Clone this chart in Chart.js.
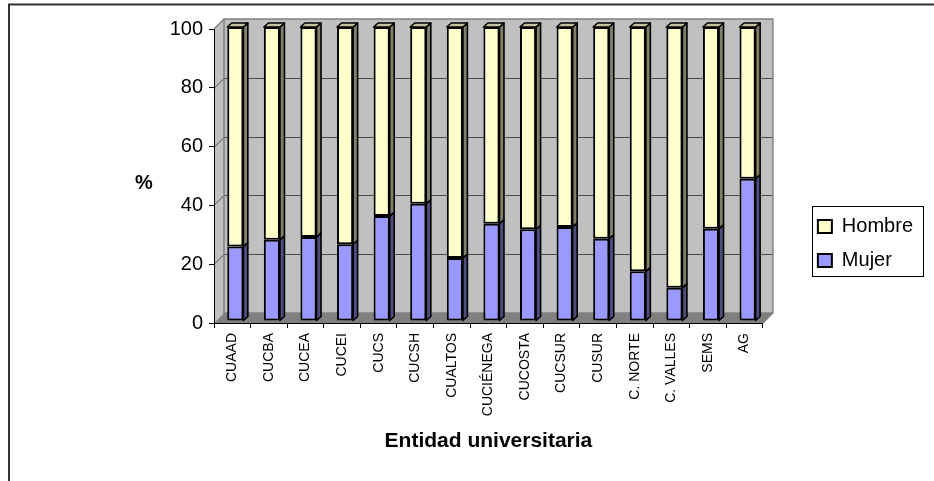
<!DOCTYPE html>
<html>
<head>
<meta charset="utf-8">
<script src="https://cdn.jsdelivr.net/npm/chart.js@4.4.1/dist/chart.umd.min.js"></script>
<style>html,body{margin:0;padding:0;background:#fff}canvas{display:block}</style>
</head>
<body>
<canvas id="c" width="934" height="481"></canvas>
<script>
// ---- data ----
const categories = ['CUAAD','CUCBA','CUCEA','CUCEI','CUCS','CUCSH','CUALTOS','CUCIÉNEGA','CUCOSTA','CUCSUR','CUSUR','C. NORTE','C. VALLES','SEMS','AG'];
const mujer  = [25.3, 27.6, 28.6, 26.1, 35.7, 39.9, 21.4, 33.1, 31.2, 32.0, 28.0, 16.9, 11.3, 31.4, 48.4];
const hombre = [74.7, 72.4, 71.4, 73.9, 64.3, 60.1, 78.6, 66.9, 68.8, 68.0, 72.0, 83.1, 88.7, 68.6, 51.6];
const yTicks = [0, 20, 40, 60, 80, 100];
const seriesNames = ['Mujer', 'Hombre'];
const xTitle = 'Entidad universitaria';
const yTitle = '%';

// ---- style ----
const FONT = "'Liberation Sans', Arial, sans-serif";
const DEPTH = {dx: 10, dy: 10};
const BAR_DEPTH = {dx: 4.5, dy: 4};
const BAR_SHIFT = {dx: 3, dy: -2};
const FILL = ['#9999ff', '#ffffcc'];
const SIDE = ['#4d4d80', '#80806a'];
const TOPC = ['#7a7acc', '#c2c29c'];

const plugin3d = {
  id: 'plugin3d',
  beforeDraw(chart) {
    const {ctx, chartArea: a} = chart;
    const y = chart.scales.y;
    const L = a.left, R = a.right, T = a.top, B = a.bottom, dx = DEPTH.dx, dy = DEPTH.dy;
    ctx.save();
    ctx.fillStyle = '#fff';
    ctx.fillRect(0, 0, chart.width, chart.height);
    // outer frame (top + left)
    ctx.strokeStyle = '#333'; ctx.lineWidth = 2;
    ctx.beginPath(); ctx.moveTo(9, chart.height); ctx.lineTo(9, 4.5); ctx.lineTo(chart.width, 4.5); ctx.stroke();
    // back wall
    ctx.fillStyle = '#c0c0c0';
    ctx.fillRect(L + dx, T - dy, R - L, B - T);
    // left wall
    ctx.beginPath(); ctx.moveTo(L, T); ctx.lineTo(L + dx, T - dy); ctx.lineTo(L + dx, B - dy); ctx.lineTo(L, B); ctx.closePath(); ctx.fill();
    // floor
    ctx.fillStyle = '#808080';
    ctx.beginPath(); ctx.moveTo(L, B); ctx.lineTo(L + dx, B - dy); ctx.lineTo(R + dx, B - dy); ctx.lineTo(R, B); ctx.closePath(); ctx.fill();
    // gridlines on walls
    ctx.strokeStyle = '#4a4a4a'; ctx.lineWidth = 1;
    yTicks.forEach(v => {
      if (v === yTicks[0] || v === yTicks[yTicks.length - 1]) return;
      const py = Math.round(y.getPixelForValue(v)) + 0.5;
      ctx.beginPath(); ctx.moveTo(L, py); ctx.lineTo(L + dx, py - dy); ctx.lineTo(R + dx, py - dy); ctx.stroke();
    });
    // outlines
    ctx.strokeStyle = '#808080'; ctx.lineWidth = 1.5;
    ctx.strokeRect(L + dx, T - dy, R - L, B - T);
    ctx.beginPath(); ctx.moveTo(L, T); ctx.lineTo(L + dx, T - dy); ctx.stroke();
    ctx.beginPath(); ctx.moveTo(R, B); ctx.lineTo(R + dx, B - dy); ctx.stroke();
    ctx.restore();
  },
  beforeDatasetsDraw(chart) {
    chart.ctx.save();
    chart.ctx.translate(BAR_SHIFT.dx, BAR_SHIFT.dy);
  },
  afterDatasetsDraw(chart) {
    const ctx = chart.ctx;
    const n = chart.data.datasets.length;
    chart.getSortedVisibleDatasetMetas().forEach(meta => {
      const di = meta.index;
      meta.data.forEach(bar => {
        const p = bar.getProps(['x', 'y', 'base', 'width'], true);
        const l = p.x - p.width / 2, r = p.x + p.width / 2;
        const top = Math.min(p.y, p.base), bot = Math.max(p.y, p.base);
        const bdx = BAR_DEPTH.dx, bdy = BAR_DEPTH.dy;
        ctx.lineWidth = 1.6; ctx.strokeStyle = '#000'; ctx.lineJoin = 'round';
        ctx.fillStyle = SIDE[di];
        ctx.beginPath(); ctx.moveTo(r, top); ctx.lineTo(r + bdx, top - bdy); ctx.lineTo(r + bdx, bot - bdy); ctx.lineTo(r, bot); ctx.closePath();
        ctx.fill(); ctx.stroke();
        if (di === n - 1) {
          ctx.fillStyle = TOPC[di];
          ctx.beginPath(); ctx.moveTo(l, top); ctx.lineTo(l + bdx, top - bdy); ctx.lineTo(r + bdx, top - bdy); ctx.lineTo(r, top); ctx.closePath();
          ctx.fill(); ctx.stroke();
        }
      });
    });
    ctx.restore();
  },
  afterDraw(chart) {
    const {ctx, chartArea: a} = chart;
    ctx.save();
    // y axis title (horizontal)
    ctx.fillStyle = '#000';
    ctx.font = 'bold 20px ' + FONT;
    ctx.textAlign = 'center'; ctx.textBaseline = 'middle';
    ctx.fillText(yTitle, a.left - 70, (a.top + a.bottom) / 2 + 7);
    // legend frame
    const hb = chart.legend && chart.legend.legendHitBoxes;
    if (hb && hb.length) {
      const left = Math.min(...hb.map(h => h.left)) - 6;
      const right = Math.max(...hb.map(h => h.left + h.width)) + 10;
      const top = hb[0].top - 11;
      const last = hb[hb.length - 1];
      const bottom = last.top + last.height + 5;
      ctx.strokeStyle = '#000'; ctx.lineWidth = 1;
      ctx.strokeRect(Math.round(left) + 0.5, Math.round(top) + 0.5, Math.round(right - left), Math.round(bottom - top));
    }
    ctx.restore();
  }
};

const seriesData = [mujer, hombre];
const datasets = seriesNames.map((name, i) => ({
  label: name,
  data: seriesData[i],
  backgroundColor: FILL[i],
  borderColor: '#000',
  borderWidth: 2,
  borderSkipped: false,
  categoryPercentage: 1,
  barPercentage: 0.44,
  clip: false
}));

new Chart(document.getElementById('c'), {
  type: 'bar',
  data: {labels: categories, datasets},
  plugins: [plugin3d],
  options: {
    responsive: false,
    animation: false,
    devicePixelRatio: 1,
    layout: {padding: {top: 29, bottom: 23, left: 0, right: 11}},
    plugins: {
      legend: {
        position: 'right',
        reverse: true,
        labels: {boxWidth: 14, boxHeight: 13, padding: 14, color: '#000', font: {family: FONT, size: 20}}
      },
      tooltip: {enabled: false},
      title: {display: false}
    },
    scales: {
      x: {
        stacked: true,
        grid: {display: true, drawOnChartArea: false, drawTicks: true, tickLength: 5, color: '#000', offset: true},
        border: {display: true, color: '#000', width: 1},
        ticks: {color: '#000', font: {family: FONT, size: 14}, minRotation: 90, maxRotation: 90, autoSkip: false, padding: 5},
        title: {display: true, text: xTitle, color: '#000', font: {family: FONT, size: 21, weight: 'bold'}, padding: {top: 0, bottom: 4}},
        afterFit(s) { s.height = 135; }
      },
      y: {
        stacked: true,
        min: yTicks[0],
        max: yTicks[yTicks.length - 1],
        afterBuildTicks(s) { s.ticks = yTicks.map(v => ({value: v})); },
        ticks: {color: '#000', font: {family: FONT, size: 20}, padding: 6},
        grid: {drawOnChartArea: false, drawTicks: true, tickLength: 5, color: '#000'},
        border: {display: true, color: '#000', width: 1},
        afterFit(s) { s.width = 214; }
      },
      y2: {
        position: 'right',
        display: true,
        grid: {display: false},
        border: {display: false},
        ticks: {display: false},
        afterFit(s) { s.width = 41; }
      }
    }
  }
});
</script>
</body>
</html>
